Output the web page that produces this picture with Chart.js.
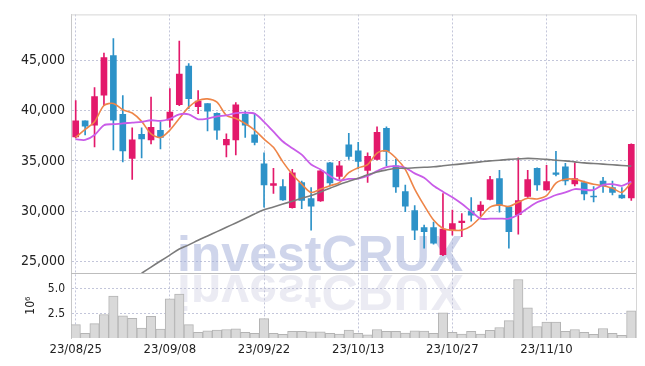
<!DOCTYPE html>
<html>
<head>
<meta charset="utf-8">
<script src="https://cdn.jsdelivr.net/npm/chart.js@4.4.1/dist/chart.umd.min.js"></script>
<style>
  html, body { margin: 0; padding: 0; background: #fff; }
  #wrap { width: 645px; height: 366px; }
</style>
</head>
<body>
<div id="wrap"><canvas id="chart" width="645" height="366"></canvas></div>
<script>
const dates = [
  '23/08/25', '23/08/28', '23/08/29', '23/08/30', '23/08/31', '23/09/01', '23/09/04', '23/09/05', '23/09/06', '23/09/07',
  '23/09/08', '23/09/11', '23/09/12', '23/09/13', '23/09/14', '23/09/15', '23/09/18', '23/09/19', '23/09/20', '23/09/21',
  '23/09/22', '23/09/25', '23/09/26', '23/09/27', '23/10/04', '23/10/05', '23/10/06', '23/10/10', '23/10/11', '23/10/12',
  '23/10/13', '23/10/16', '23/10/17', '23/10/18', '23/10/19', '23/10/20', '23/10/23', '23/10/24', '23/10/25', '23/10/26',
  '23/10/27', '23/10/30', '23/10/31', '23/11/01', '23/11/02', '23/11/03', '23/11/06', '23/11/07', '23/11/08', '23/11/09',
  '23/11/10', '23/11/13', '23/11/14', '23/11/15', '23/11/16', '23/11/17', '23/11/20', '23/11/21', '23/11/22', '23/11/23',
];
const tickLabels = ['23/08/25', '23/09/08', '23/09/22', '23/10/13', '23/10/27', '23/11/10'];
const priceTicks = [25000, 30000, 35000, 40000, 45000];
const volumeTicks = [2.5, 5.0];

const opens = [
  37400, 39000, 38550, 41550, 45500, 39650, 35250, 37650, 37100, 38050,
  39050, 40600, 44450, 40400, 40700, 39750, 36600, 37100, 39650, 37600,
  34700, 32550, 32450, 30350, 32850, 31250, 31000, 34800, 33450, 36600,
  36000, 34050, 35150, 38250, 34500, 31950, 30050, 28350, 28350, 25650,
  28100, 28850, 30000, 30050, 31150, 33250, 30400, 29650, 31450, 34250,
  32100, 33800, 34400, 32700, 32850, 31500, 33000, 32350, 31600, 31300,
];
const highs = [
  41000, 39000, 42300, 45750, 47200, 41500, 38300, 38300, 41350, 38900,
  42200, 46950, 44700, 42000, 40700, 39800, 37700, 40800, 39950, 39750,
  35800, 34250, 33150, 34150, 33000, 32350, 34050, 34850, 34950, 37750,
  36850, 35800, 38400, 38400, 35150, 32600, 30550, 28600, 28900, 31750,
  30100, 29750, 31350, 30950, 33450, 34050, 30500, 35300, 34050, 34300,
  34550, 35950, 34750, 34800, 33000, 32450, 33350, 33000, 32350, 36700,
];
const lows = [
  37300, 37600, 36400, 40500, 36100, 34900, 33150, 35300, 36700, 36200,
  38350, 40500, 40200, 39700, 38000, 37150, 35400, 35600, 37350, 36600,
  30400, 31750, 31050, 30300, 30250, 28100, 30950, 32500, 33150, 35150,
  34200, 32850, 35100, 34500, 31850, 29950, 27150, 26300, 26700, 25550,
  27600, 27450, 29000, 29500, 31100, 29900, 26300, 27700, 31350, 32050,
  32050, 33500, 32600, 32500, 31100, 30900, 31850, 31600, 31250, 31050,
];
const closes = [
  39000, 38450, 41400, 45300, 39050, 36000, 37100, 37200, 38350, 37350,
  39870, 43650, 41200, 40950, 39950, 38050, 37150, 40600, 38550, 36850,
  32600, 32750, 31100, 33800, 31050, 30500, 34000, 32800, 34500, 35450,
  34950, 35450, 37850, 35950, 32400, 30500, 28100, 27950, 26800, 28200,
  28750, 29000, 29600, 30600, 33150, 30550, 27950, 31050, 33150, 32600,
  32950, 33650, 33000, 33250, 31700, 31400, 32500, 31850, 31300, 36650,
];
const ma5 = [
  37350, 38140, 38900, 40520, 40720, 40100, 39770, 38940, 37700, 37330,
  38070, 39220, 40360, 41010, 41180, 40850, 39540, 39220, 38730, 38070,
  37170, 36350, 34900, 33660, 32680, 31860, 32190, 32520, 32840, 33820,
  34310, 34640, 35780, 36010, 35290, 34150, 32190, 30560, 29100, 28270,
  28100, 28100, 28530, 29410, 30390, 30620, 30460, 30880, 31270, 31210,
  31530, 32780, 33170, 33170, 32910, 32680, 32520, 32290, 31860, 32840,
];
const ma20 = [
  37160, 37090, 37580, 38560, 38660, 38730, 38820, 38890, 39050, 38990,
  39200, 39640, 39640, 39150, 39220, 39440, 39540, 39770, 39800, 39710,
  38890, 37910, 36930, 36270, 35620, 34640, 34150, 33500, 33050, 33200,
  33240, 33500, 33990, 34380, 34480, 34310, 33760, 33330, 32520, 31930,
  31370, 30720, 29970, 29250, 29250, 29250, 29250, 29640, 30290, 30880,
  31210, 31600, 31860, 32190, 32120, 32100, 32620, 32680, 32520, 32940,
];
const ma60 = [
  null, null, null, null, null, null, null, 23800, 24420, 25020,
  25610, 26220, 26630, 27090, 27520, 27950, 28380, 28820, 29260, 29710,
  30120, 30400, 30700, 30980, 31270, 31540, 31910, 32270, 32640, 32960,
  33280, 33610, 33890, 34090, 34260, 34260, 34310, 34360, 34410, 34510,
  34610, 34700, 34800, 34900, 35000, 35070, 35150, 35200, 35250, 35220,
  35150, 35070, 35000, 34900, 34800, 34740, 34680, 34610, 34540, 34480,
];
// volume in millions of shares
const volumes = [
  1.37, 0.47, 1.47, 2.4, 4.27, 2.27, 2.0, 1.0, 2.2, 0.9,
  4.0, 4.47, 1.37, 0.57, 0.73, 0.8, 0.87, 0.93, 0.57, 0.47,
  1.97, 0.47, 0.37, 0.67, 0.67, 0.63, 0.63, 0.47, 0.4, 0.8,
  0.47, 0.33, 0.87, 0.67, 0.67, 0.5, 0.73, 0.7, 0.47, 2.57,
  0.57, 0.4, 0.67, 0.4, 0.77, 1.07, 1.77, 5.97, 3.07, 1.17,
  1.63, 1.63, 0.67, 0.87, 0.57, 0.37, 0.97, 0.47, 0.27, 2.77,
];

const UP = '#e3196b';
const DOWN = '#2d92c8';
const GRID = '#c3c6da';
const TEXT = '#222';
const FONT = '"DejaVu Sans Condensed", "Liberation Sans", sans-serif';

const candleColors = opens.map((o, i) => (closes[i] >= o ? UP : DOWN));

const decor = {
  id: 'decor',
  beforeDatasetsDraw(chart) {
    const { ctx, chartArea, scales: { y } } = chart;
    const base = y.bottom - 2;
    const cx = chartArea.left + 249;
    ctx.save();
    ctx.font = 'bold 50px "Liberation Sans", Arial, sans-serif';
    ctx.textAlign = 'center';
    ctx.fillStyle = 'rgba(160, 172, 215, 0.5)';
    ctx.fillText('investCRUX', cx, base);
    ctx.translate(0, base * 2 + 4);
    ctx.scale(1, -1);
    ctx.fillStyle = 'rgba(190, 190, 215, 0.3)';
    ctx.fillText('investCRUX', cx, base);
    ctx.restore();
  },
  afterDraw(chart) {
    const { ctx, chartArea: a, scales: { y } } = chart;
    ctx.save();
    ctx.lineWidth = 1;
    ctx.strokeStyle = '#d6d6d6';
    ctx.beginPath();
    ctx.moveTo(a.left, a.top + 0.5);
    ctx.lineTo(a.right + 0.5, a.top + 0.5);
    ctx.lineTo(a.right + 0.5, a.bottom);
    ctx.stroke();
    ctx.strokeStyle = '#bdbdbd';
    ctx.beginPath();
    ctx.moveTo(a.left, Math.round(y.bottom) + 0.5);
    ctx.lineTo(a.right, Math.round(y.bottom) + 0.5);
    ctx.stroke();
    ctx.restore();
  },
};

const maLine = (data, color, width) => ({
  type: 'line',
  data,
  yAxisID: 'y',
  borderColor: color,
  borderWidth: width,
  pointRadius: 0,
  tension: 0.3,
  order: 0,
});

new Chart(document.getElementById('chart'), {
  type: 'bar',
  data: {
    labels: dates,
    datasets: [
      maLine(ma60, '#7b7b7b', 1.6),
      maLine(ma20, '#c95ce8', 1.8),
      maLine(ma5, '#ee8548', 1.6),
      {
        data: opens.map((o, i) => [o, closes[i]]),
        yAxisID: 'y',
        backgroundColor: candleColors,
        barThickness: 6,
        minBarLength: 1,
        grouped: false,
        order: 1,
      },
      {
        data: lows.map((l, i) => [l, highs[i]]),
        yAxisID: 'y',
        backgroundColor: candleColors,
        barThickness: 1,
        grouped: false,
        order: 2,
      },
      {
        data: volumes,
        yAxisID: 'yv',
        backgroundColor: '#d9d9d9',
        borderColor: '#b4b4b4',
        borderWidth: 1,
        barPercentage: 1,
        categoryPercentage: 1,
        grouped: false,
        order: 3,
      },
    ],
  },
  options: {
    responsive: false,
    animation: false,
    devicePixelRatio: 1,
    layout: { padding: { top: 9, right: 9, left: 0, bottom: 0 } },
    plugins: { legend: { display: false }, tooltip: { enabled: false } },
    scales: {
      x: {
        offset: true,
        grid: { offset: false, drawTicks: false, color: (c) => (c.index % 10 === 0 ? GRID : 'transparent') },
        border: { display: false, dash: [2, 2] },
        ticks: {
          autoSkip: false,
          maxRotation: 0,
          padding: 4,
          color: TEXT,
          font: { family: FONT, size: 13 },
          callback: (v, i) => (tickLabels.includes(dates[i]) ? dates[i] : ''),
        },
        afterFit: (s) => { s.height = 28; },
      },
      yv: {
        stack: 'panel',
        stackWeight: 1,
        min: 0,
        max: 6.6,
        grid: { drawTicks: false, color: GRID },
        border: { color: '#c8c8c8', dash: [2, 2] },
        ticks: {
          padding: 6,
          color: TEXT,
          font: { family: FONT, size: 12 },
          callback: (v) => v.toFixed(1),
        },
        title: {
          display: true,
          text: '10⁶',
          color: TEXT,
          font: { family: FONT, size: 12 },
          padding: { top: 24, bottom: 0 },
        },
        afterBuildTicks: (s) => { s.ticks = volumeTicks.map((value) => ({ value })); },
        afterFit: (s) => { s.width = 71; },
      },
      y: {
        stack: 'panel',
        stackWeight: 4,
        min: 23800,
        max: 49600,
        grid: { drawTicks: false, color: GRID },
        border: { color: '#c8c8c8', dash: [2, 2] },
        ticks: {
          padding: 6,
          color: TEXT,
          font: { family: FONT, size: 14 },
          callback: (v) => v.toLocaleString('en-US'),
        },
        afterBuildTicks: (s) => { s.ticks = priceTicks.map((value) => ({ value })); },
        afterFit: (s) => { s.width = 71; },
      },
    },
  },
  plugins: [decor],
});
</script>
</body>
</html>
